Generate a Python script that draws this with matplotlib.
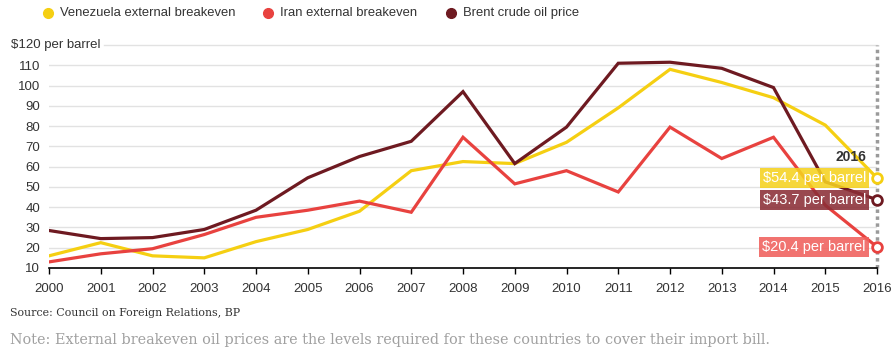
import matplotlib
matplotlib.use("Agg")
import matplotlib.pyplot as plt
from matplotlib.lines import Line2D

plt.rcParams['font.family'] = ['Liberation Sans', 'DejaVu Sans']

# data
years = list(range(2000, 2017))
venezuela = [16, 22.5, 16, 15, 23, 29, 38, 58, 62.5, 61.5, 72, 89, 108, 101.5, 94, 80.5, 54.4]
iran = [13, 17, 19.5, 26.5, 35, 38.5, 43, 37.5, 74.5, 51.5, 58, 47.5, 79.5, 64, 74.5, 41, 20.4]
brent = [28.5, 24.5, 25, 29, 38.5, 54.5, 65, 72.5, 97, 61.5, 79.5, 111, 111.5, 108.5, 99, 52.5, 43.7]

names = ["Venezuela external breakeven", "Iran external breakeven", "Brent crude oil price"]
colors = ["#f5cf12", "#e8423f", "#6e1a21"]
box_colors = ["#f5d21e", "#f0605c", "#8b2e36"]
yticks = [10, 20, 30, 40, 50, 60, 70, 80, 90, 100, 110]

W, H = 896, 354
fig = plt.figure(figsize=(W / 100, H / 100), dpi=100)
ax = fig.add_axes([49 / W, (H - 268) / H, (877 - 49) / W, (268 - 45) / H])
ax.set_xlim(2000, 2016)
ax.set_ylim(10, 120)

# gridlines
for y in yticks[1:]:
    ax.axhline(y, color="#e2e2e2", lw=1, zorder=0)
ax.plot([2000 + (104 - 49) / 51.75, 2016], [120, 120], color="#e2e2e2", lw=1, zorder=0, clip_on=False)

for s in ["top", "right", "left"]:
    ax.spines[s].set_visible(False)
ax.spines["bottom"].set_color("black")
ax.spines["bottom"].set_linewidth(1.2)

ax.set_yticks(yticks)
ax.set_yticklabels([str(v) for v in yticks])
ax.tick_params(axis="y", length=0, pad=6.5, labelsize=9.5, labelcolor="#333333")
ax.set_xticks(years)
ax.tick_params(axis="x", length=4, width=1, color="black", pad=7, labelsize=9.5, labelcolor="#333333")
fig.text(11 / W, 1 - 45 / H, "$120 per barrel", fontsize=9.5, color="#333333", va="center", ha="left")

# 2016 dotted marker line
ax.plot([2016, 2016], [10, 120], color="#9a9a9a", lw=2.5, ls=(0, (1, 1)), zorder=1, clip_on=False)

series = [venezuela, iran, brent]
for vals, c in zip(series, colors):
    ax.plot(years, vals, color=c, lw=2.3, zorder=3, solid_joinstyle="miter")

for vals, c, bc in zip(series, colors, box_colors):
    ax.plot(years[-1], vals[-1], marker="o", ms=7, mfc="white", mec=c, mew=2, zorder=6, clip_on=False)
    ax.annotate(f"${vals[-1]} per barrel", xy=(years[-1], vals[-1]), xytext=(-8, 0),
                textcoords="offset points", ha="right", va="center", fontsize=10.5, color="white",
                bbox=dict(boxstyle="square,pad=0.2", fc=bc, ec="none", alpha=0.88), zorder=5)

ax.annotate("2016", xy=(2016, 64.7), xytext=(-8, 0), textcoords="offset points",
            ha="right", va="center", fontsize=10, fontweight="bold", color="#333333")

# legend, placed by hand
leg_marker_x = [48, 268, 451]
leg_text_x = [60, 280, 463]
for mx, tx, name, c in zip(leg_marker_x, leg_text_x, names, colors):
    fig.add_artist(Line2D([mx / W], [1 - 13 / H], marker="o", ls="none", ms=7, color=c,
                          transform=fig.transFigure))
    fig.text(tx / W, 1 - 13 / H, name, fontsize=9.4, color="#333333", va="center", ha="left")

fig.text(10 / W, 1 - 313 / H, "Source: Council on Foreign Relations, BP", fontsize=7.9,
         color="#333333", family=["DejaVu Serif"], va="center")
fig.text(10 / W, 1 - 340 / H, "Note: External breakeven oil prices are the levels required for these countries to cover their import bill.",
         fontsize=10.35, color="#a0a0a0", family=["DejaVu Serif"], va="center")

fig.savefig("out.png", dpi=100)
